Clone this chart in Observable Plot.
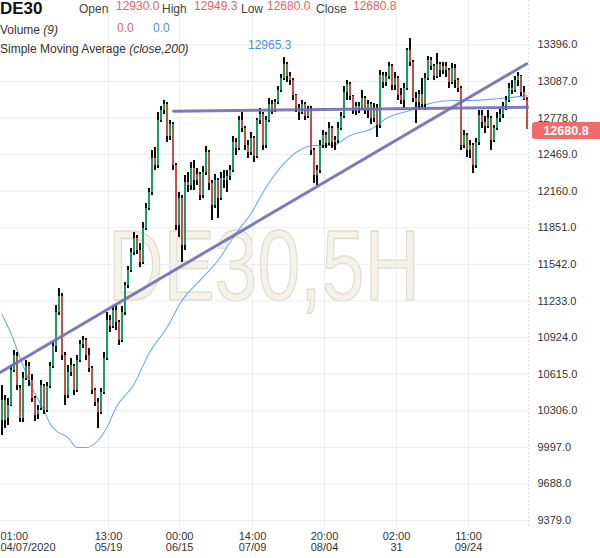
<!DOCTYPE html>
<html><head><meta charset="utf-8">
<script src="https://cdn.jsdelivr.net/npm/d3@7"></script>
<script src="https://cdn.jsdelivr.net/npm/@observablehq/plot@0.6"></script>
<style>
body{margin:0;background:#fff;font-family:"Liberation Sans",Arial,sans-serif;}
#wrap{position:relative;width:600px;height:558px;overflow:hidden;background:#fff}
#wrap svg{display:block}
#hdr{position:absolute;left:0;top:0;pointer-events:none}
</style></head><body><div id="wrap"></div>
<script>
// ---- DE30, 5H candles ----
const opens=[10224,10393,10241,10351,10646,10764,10494,10241,10579,10680,
10562,10410,10275,10325,10511,10308,10511,10680,10849,11136,
11271,10773,10435,10629,10680,10477,10731,10866,10899,10773,
10663,10477,10376,10291,10460,10747,11068,11018,11153,11051,
10899,11136,11364,11490,11642,11761,11659,11558,11845,12014,
12149,12436,12377,12757,12841,12892,12622,12723,12377,11870,
12098,11701,12233,12208,12352,12250,12301,12124,12318,12487,
12225,12039,12250,12098,12267,12250,12284,12335,12571,12520,
12757,12689,12546,12487,12605,12453,12757,12808,12546,12757,
12892,12841,12909,13010,13111,13230,13128,13095,12968,12858,
12824,12892,12791,12841,12504,12292,12335,12546,12630,12563,
12689,12571,12588,12689,12791,12993,13061,12959,12841,12875,
12858,12943,12841,12892,12774,12858,12715,13137,13078,13128,
13213,13052,13111,12968,12926,13027,13348,13247,12943,12909,
12976,12892,13111,13263,13213,13128,13230,13179,13213,13179,
13078,13196,13095,13027,12546,12630,12504,12546,12377,12571,
12799,12740,12706,12774,12588,12689,12774,12808,12875,12926,
13027,13010,13095,13128,12993,12930];
const highs=[10519,10435,10410,10688,10815,10798,10519,10629,10731,10714,
10612,10427,10351,10562,10528,10545,10714,10882,11195,11338,
11296,10798,10688,10747,10697,10773,10899,10933,10916,10832,
10680,10494,10410,10494,10798,11136,11110,11187,11195,11068,
11187,11389,11524,11676,11811,11786,11718,11896,12056,12183,
12504,12529,12824,12875,12926,12909,12757,12740,12394,12149,
12124,12292,12318,12402,12419,12352,12318,12369,12537,12504,
12250,12301,12267,12318,12335,12335,12377,12622,12605,12791,
12824,12706,12588,12655,12622,12774,12858,12824,12791,12943,
12926,12934,13044,13145,13289,13247,13162,13111,12976,12892,
12926,12909,12875,12875,12520,12377,12588,12672,12655,12740,
12706,12622,12740,12824,13044,13095,13078,12968,12909,12909,
13010,12959,12926,12909,12900,12892,13179,13162,13162,13247,
13230,13162,13128,13027,13069,13365,13449,13263,12993,13010,
13111,13154,13297,13289,13230,13323,13247,13247,13247,13196,
13238,13230,13111,13044,12672,12647,12588,12563,12605,12841,
12841,12791,12841,12791,12715,12824,12858,12909,12959,13069,
13095,13128,13162,13137,13044,12949.3];
const lows=[10098,10156,10182,10342,10629,10477,10207,10207,10562,10511,
10376,10215,10232,10308,10275,10291,10494,10663,10798,11110,
10731,10351,10410,10595,10435,10460,10714,10832,10731,10629,
10443,10342,10156,10275,10443,10731,10967,11001,10984,10857,
10882,11110,11338,11473,11617,11626,11516,11541,11828,11997,
12124,12335,12352,12740,12808,12571,12588,12335,11828,11769,
11558,11659,12149,12166,12166,12208,12081,12098,12292,12166,
11913,12014,11929,12081,12183,12149,12250,12318,12461,12504,
12655,12504,12436,12461,12402,12436,12723,12504,12520,12740,
12808,12824,12892,12993,13095,13078,13052,12926,12824,12757,
12808,12757,12774,12461,12225,12208,12309,12520,12520,12546,
12520,12504,12563,12672,12774,12926,12926,12808,12799,12816,
12841,12808,12774,12723,12740,12613,12689,13027,13044,13103,
13010,13010,12926,12892,12858,13010,13213,12909,12732,12841,
12858,12841,13095,13179,13095,13111,13120,13145,13120,13027,
13061,13027,12993,12504,12520,12444,12436,12309,12352,12546,
12689,12647,12689,12504,12571,12672,12740,12774,12841,12909,
12976,12993,13044,12959,12926,12680];
const closes=[10393,10224,10351,10646,10773,10519,10241,10579,10680,10562,
10410,10266,10308,10519,10308,10511,10680,10849,11136,11271,
10773,10435,10629,10688,10477,10731,10866,10899,10773,10663,
10477,10376,10291,10460,10747,11068,11018,11153,11051,10899,
11136,11364,11490,11642,11761,11659,11558,11845,12014,12149,
12436,12377,12757,12841,12892,12622,12723,12377,11870,12098,
11701,12233,12208,12352,12250,12301,12124,12318,12487,12225,
12039,12250,12098,12267,12250,12284,12335,12571,12520,12757,
12689,12546,12487,12605,12453,12757,12808,12546,12757,12892,
12841,12909,13010,13111,13230,13128,13095,12968,12858,12824,
12892,12791,12841,12504,12292,12335,12546,12630,12563,12689,
12571,12588,12689,12791,12993,13061,12959,12841,12875,12858,
12943,12841,12892,12774,12858,12715,13137,13078,13128,13213,
13052,13111,12968,12926,13027,13348,13247,12943,12909,12976,
12892,13111,13263,13213,13128,13230,13179,13213,13179,13078,
13196,13095,13027,12546,12630,12504,12546,12377,12571,12799,
12740,12706,12774,12588,12689,12774,12808,12875,12926,13027,
13010,13095,13128,12993,12934,12680.8];

// Simple moving average (close, 200): bar index -> value
const smaIdx=[0,3,6,10,14,16,18,22,25,28,32,35,38,44,49,55,60,66,72,78,83,88,94,99,104,110,116,124,128,136,144,150,157,166,175];
const smaVal=[11119,10958,10756,10503,10308,10199,10139,10080,9996,9996,10055,10165,10334,10530,10790,11009,11237,11406,11575,11803,11972,12191,12394,12504,12546,12546,12630,12698,12774,12841,12909,12926,12926,12943,12965];

// drawn lines: rising trendline and horizontal resistance
const trendIdx=[-0.5,174.9];
const trendVal=[10632,13236];
const resIdx=[57.2,175.2];
const resVal=[12835,12869];

// axes
const yTicks=[13396,13087,12778,12469,12160,11851,11542,11233,10924,10615,10306,9997,9688,9379];
const xTickIdx=[35.5,59.2,83.5,107.5,131.5,155.5];
const xTickLabels=["13:00\n05/19","00:00\n06/15","14:00\n07/09","20:00\n08/04","02:00\n31","11:00\n09/24"];
const firstLabel="01:00\n04/07/2020";

const bars=closes.map((c,i)=>({i,o:opens[i],h:highs[i],l:lows[i],c,up:c>=opens[i]}));
const sma=smaIdx.map((x,k)=>({x,v:smaVal[k]}));
const trend=trendIdx.map((x,k)=>({x,v:trendVal[k]}));
const res=resIdx.map((x,k)=>({x,v:resVal[k]}));
const xLab=new Map(xTickIdx.map((d,k)=>[d,xTickLabels[k]]));

const FONT='"Liberation Sans", Arial, sans-serif';
const GREEN="#1fc27a", RED="#f0625d", GRID="#ececec";

const plot=Plot.plot({
  width:600,height:558,
  marginLeft:0,marginRight:72,marginTop:0,marginBottom:30,
  style:{fontFamily:FONT,fontSize:"11px",color:"#333",background:"#fff"},
  x:{domain:[-0.5,175.5],axis:null},
  y:{domain:[9312,13770],axis:null},
  marks:[
    Plot.gridY(yTicks,{stroke:GRID,strokeOpacity:1}),
    Plot.gridX(xTickIdx,{stroke:GRID,strokeOpacity:1}),
    Plot.ruleX([175.5],{stroke:"#d8d8d8",strokeDasharray:"1.5,2.5"}),
    Plot.line(sma,{x:"x",y:"v",stroke:"#6ea8f2",strokeWidth:1.1,curve:"monotone-x"}),
    Plot.ruleX(bars,{x:"i",y1:"l",y2:"h",stroke:"#000",strokeWidth:1.9}),
    Plot.ruleX(bars,{x:"i",y1:"o",y2:"c",stroke:d=>d.up?GREEN:RED,strokeWidth:1.6}),
    Plot.line(res,{x:"x",y:"v",stroke:"#6e6eb6",strokeWidth:3,strokeOpacity:0.9}),
    Plot.line(trend,{x:"x",y:"v",stroke:"#6e6eb6",strokeWidth:3,strokeOpacity:0.9}),
    Plot.axisY(yTicks,{anchor:"right",tickSize:0,tickPadding:9,tickFormat:d=>d.toFixed(1),fontSize:11,fill:"#333"}),
    Plot.axisX(xTickIdx,{anchor:"bottom",tickSize:0,tickPadding:4,tickFormat:d=>xLab.get(d),fontSize:11,fill:"#333",lineHeight:1}),
    Plot.text([firstLabel],{x:-0.5,frameAnchor:"bottom",textAnchor:"start",lineAnchor:"top",dy:4,fontSize:11,fill:"#333",lineHeight:1})
  ]
});
const wrap=document.getElementById("wrap");
wrap.appendChild(plot);

// watermark behind everything
const ys=plot.scale("y");
d3.select(plot).insert("text","g").attr("x",264).attr("y",300)
  .attr("text-anchor","middle").attr("font-family",FONT)
  .attr("font-size",100).attr("textLength",312).attr("lengthAdjust","spacingAndGlyphs")
  .attr("fill","#f4f2ea").attr("stroke","#e2ddcc").attr("stroke-width",1.5)
  .text("DE30,5H");

// header overlay
const hdr=d3.select(wrap).append("svg").attr("id","hdr").attr("width",600).attr("height",60)
  .attr("font-family",FONT);
const T=(x,y,s,opt={})=>{const t=hdr.append("text").attr("x",x).attr("y",y)
  .attr("font-size",opt.size||12).attr("fill",opt.fill||"#444");
  if(opt.bold)t.attr("font-weight","bold"); if(opt.italic)t.attr("font-style","italic"); t.text(s); return t;};
const RC="#e06262", BC="#4b8fe6";
T(0,14,"DE30",{size:17,bold:true,fill:"#111"});
T(79,12.5,"Open"); T(116,10,"12930.0",{fill:RC});
T(162,12.5,"High"); T(194,10,"12949.3",{fill:RC});
T(241,12.5,"Low"); T(267,10,"12680.0",{fill:RC});
T(316,12.5,"Close"); T(353,10,"12680.8",{fill:RC});
const v=hdr.append("text").attr("x",0).attr("y",34).attr("font-size",12).attr("fill","#333");
v.append("tspan").text("Volume ");v.append("tspan").attr("font-style","italic").text("(9)");
T(117,32,"0.0",{fill:RC}); T(153,32,"0.0",{fill:BC});
const s=hdr.append("text").attr("x",0).attr("y",53).attr("font-size",12).attr("fill","#333");
s.append("tspan").text("Simple Moving Average ");s.append("tspan").attr("font-style","italic").text("(close,200)");
T(248,49,"12965.3",{fill:BC});

// last price badge on the right axis
const last=closes[closes.length-1];
const by=ys.apply(last);
const badge=d3.select(plot).append("g");
badge.append("rect").attr("x",532).attr("y",by-7).attr("width",70).attr("height",17).attr("rx",3).attr("fill","#f06c6c");
badge.append("text").attr("x",566).attr("y",by+6).attr("text-anchor","middle").attr("font-size",12.5)
  .attr("font-weight","bold").attr("fill","#fff").attr("font-family",FONT).text(last.toFixed(1));
</script></body></html>
